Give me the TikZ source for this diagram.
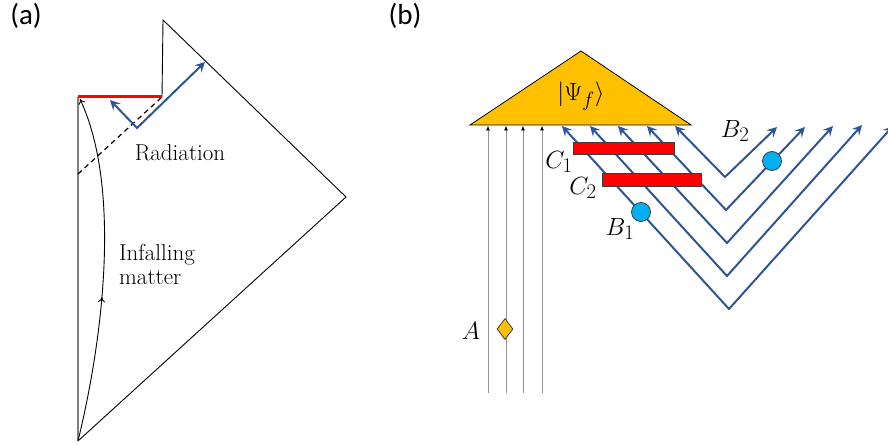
\documentclass[tikz,border=0pt]{standalone}
\usepackage{fontspec}
\newfontfamily\labelfont{Carlito}
\usetikzlibrary{arrows.meta,shapes.geometric,decorations.markings}
\definecolor{myorange}{RGB}{255,192,0}
\definecolor{myblue}{RGB}{47,85,151}
\definecolor{mycyan}{RGB}{0,176,240}
\definecolor{myred}{RGB}{255,0,0}
\definecolor{edgegray}{RGB}{60,60,60}
\begin{document}
\begin{tikzpicture}[x=1pt,y=-1pt,
  panellabel/.style={font=\labelfont\fontsize{29}{30}\selectfont, inner sep=0pt},
  txt/.style={font=\fontsize{23}{20.5}\selectfont, inner sep=0pt, align=left},
  mathlbl/.style={font=\fontsize{28}{30}\selectfont, inner sep=0pt},
  outline/.style={black, line width=0.9pt},
  bluearrow/.style={myblue, line width=2pt, line join=miter,
     {Stealth[length=10pt,width=10pt,inset=4pt]}-{Stealth[length=10pt,width=10pt,inset=4pt]}},
  grayray/.style={draw=gray!85, line width=0.9pt, -{Latex[length=5pt,width=4pt,color=black]}},
  redbar/.style={fill=myred, draw=edgegray, line width=0.8pt},
  qubit/.style={circle, fill=mycyan, draw=edgegray, line width=0.8pt, minimum size=19pt, inner sep=0pt},
  diam/.style={diamond, fill=myorange, draw=edgegray, line width=0.8pt, minimum width=16pt, minimum height=21pt, inner sep=0pt},
  midarrow/.style={postaction={decorate}, decoration={markings,
     mark=at position 0.42 with {\arrow{To[length=5pt,width=7pt]}}}}
]
\path[use as bounding box] (0,0) rectangle (888,446);
\clip (0,0) rectangle (888,446);

% ---------- panel labels
\node[panellabel] (la) at (26,16) {(a)};
\node[panellabel] (lb) at (405,16) {(b)};

% ---------- panel (a)
\coordinate (bot) at (78,441);
\coordinate (rt) at (346,197);
\coordinate (top) at (163,20);
\coordinate (notch) at (162,97);
\coordinate (lt) at (78,97);
\coordinate (dl) at (78,174);
\coordinate (rv) at (137,128);
\coordinate (ra1) at (110,100);
\coordinate (ra2) at (205,62);
\coordinate (cend) at (80,99);

\draw[outline, line join=miter] (bot) -- (rt) -- (top) -- (notch);
\draw[gray, line width=1.6pt] (lt) -- (bot);
\draw[black, line width=1.2pt, dash pattern=on 5pt off 4pt] (dl) -- (notch);
\draw[myred, line width=3pt] (lt) -- (notch);
\draw[bluearrow] (ra1) -- (rv) -- (ra2);
\draw[black, line width=0.9pt, midarrow, -{To[length=5pt,width=7pt]}]
     (bot) .. controls (105,330) and (120,185) .. (cend);

\node[txt] (rad) at (180,153) {Radiation};
\node[txt, anchor=base west] (inf1) at (119,260) {Infalling};
\node[txt, anchor=base west] (inf2) at (119,284) {matter};

% ---------- panel (b)
\coordinate (tl) at (470,125);
\coordinate (tapex) at (581,51);
\coordinate (tr) at (691,125);
\fill[myorange] (tl) -- (tapex) -- (tr) -- cycle;
\draw[black, line width=0.8pt, line join=miter] (tl) -- (tapex) -- (tr) -- cycle;
\node[mathlbl] (psi) at (581,96) {$|\Psi_f\rangle$};

% gray vertical rays
\foreach \x [count=\i] in {488,506,523,542} {
  \coordinate (g\i b) at (\x,393);
  \coordinate (g\i t) at (\x,125.5);
  \draw[grayray] (g\i b) -- (g\i t);
}
\node[diam] (diaA) at (505,329) {};
\node[mathlbl] (lA) at (471,331) {$A$};

% blue V rays
\coordinate (v1l) at (675,126); \coordinate (v1b) at (725,177); \coordinate (v1r) at (777,127);
\coordinate (v2l) at (647,126); \coordinate (v2b) at (726,210); \coordinate (v2r) at (805,127);
\coordinate (v3l) at (618,126); \coordinate (v3b) at (727,243); \coordinate (v3r) at (833,126);
\coordinate (v4l) at (590,126); \coordinate (v4b) at (727,276); \coordinate (v4r) at (862,125);
\coordinate (v5l) at (562,126); \coordinate (v5b) at (729,309); \coordinate (v5r) at (893,126);
\foreach \i in {1,...,5} {
  \draw[bluearrow] (v\i l) -- (v\i b) -- (v\i r);
}

% red bars
\draw[redbar] (573,142) rectangle (674,154);
\draw[redbar] (602,173) rectangle (701,186);
\node[mathlbl] (lC1) at (559,162) {$C_1$};
\node[mathlbl] (lC2) at (583,188) {$C_2$};

% qubits
\node[qubit] (b1) at (641,212) {};
\node[qubit] (b2) at (772,161) {};
\node[mathlbl] (lB1) at (620,229) {$B_1$};
\node[mathlbl] (lB2) at (735,131) {$B_2$};
\end{tikzpicture}
\end{document}
